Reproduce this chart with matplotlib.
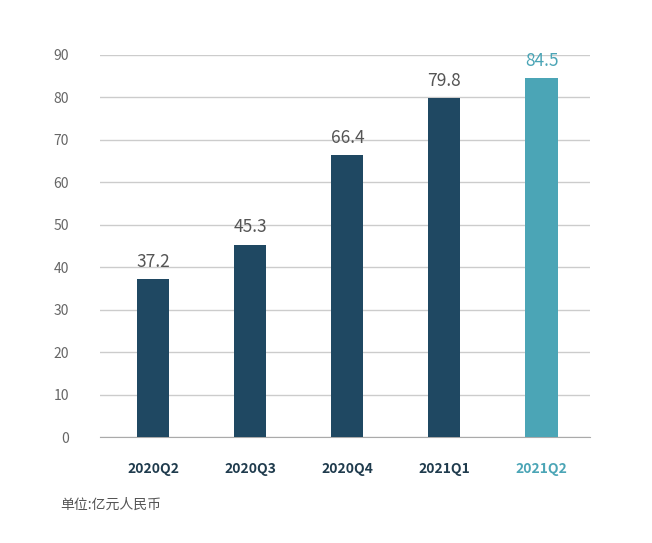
import matplotlib.pyplot as plt

plt.rcParams['font.family'] = ['Noto Sans CJK SC', 'DejaVu Sans']

quarters = ['2020Q2', '2020Q3', '2020Q4', '2021Q1', '2021Q2']
values = [37.2, 45.3, 66.4, 79.8, 84.5]
colors = ['#1f4862', '#1f4862', '#1f4862', '#1f4862', '#4ba5b6']

fig = plt.figure(figsize=(6.52, 5.43), dpi=100)
ax = fig.add_axes([0.153, 0.195, 0.752, 0.704])

x = range(len(quarters))
ax.bar(x, values, width=0.33, color=colors, zorder=3)
for i, v in enumerate(values):
    ax.text(i, v + 2, f'{v}', ha='center', va='bottom', fontsize=12.5,
            color=colors[i] if i == len(values) - 1 else '#555555')

ax.set_ylim(0, 90)
ax.set_xlim(-0.55, 4.5)
ax.set_yticks(range(0, 91, 10))
ax.yaxis.grid(True, color='#cccccc', linewidth=1, zorder=0)
ax.set_xticks(list(x))
ax.set_xticklabels(quarters, fontweight='bold', fontsize=10)
for lbl, c in zip(ax.get_xticklabels(), colors):
    lbl.set_color('#4ba5b6' if c == '#4ba5b6' else '#1f3b4d')
ax.tick_params(axis='x', length=0, pad=18)
ax.tick_params(axis='y', length=0, colors='#666666', labelsize=10, pad=22)
for s in ['top', 'right', 'left']:
    ax.spines[s].set_visible(False)
ax.spines['bottom'].set_color('#aaaaaa')

fig.text(60 / 652, 1 - 505 / 543, '单位:亿元人民币', fontsize=10, color='#555555', va='center')

fig.savefig('out.png', dpi=100, facecolor='white')
